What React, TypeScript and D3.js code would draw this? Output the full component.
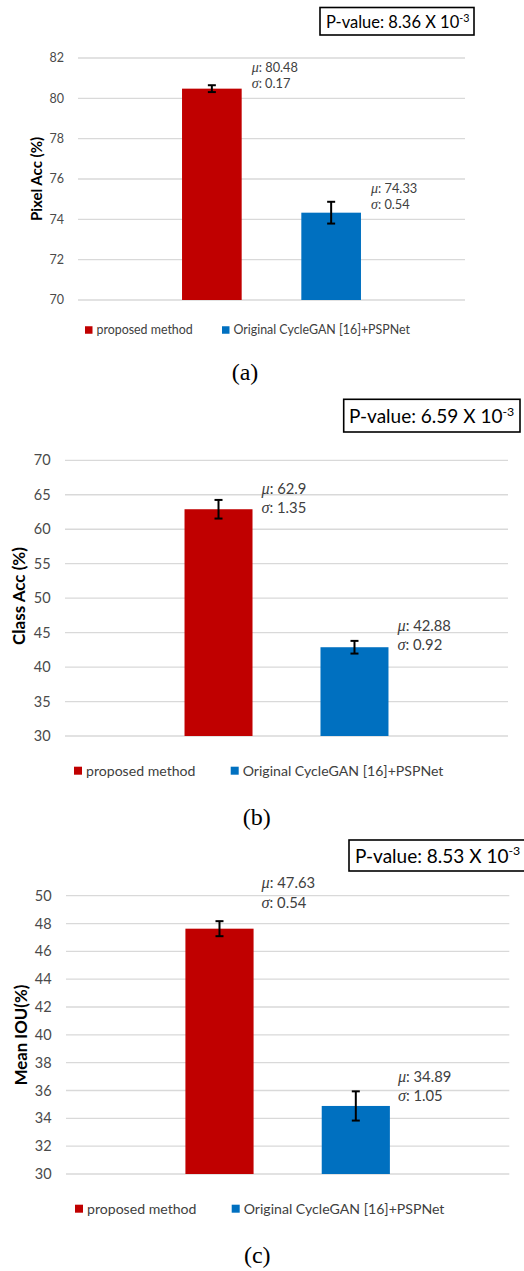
import React from "react";
import * as d3 from "d3";

// ---------- data ----------
const seriesNames = ["proposed method", "Original CycleGAN [16]+PSPNet"];
const seriesColors = ["#c00000", "#0070c0"];

const pixelAccMeans = [80.48, 74.33];
const pixelAccStds = [0.17, 0.54];
const pixelAccTicks = [70, 72, 74, 76, 78, 80, 82];

const classAccMeans = [62.9, 42.88];
const classAccStds = [1.35, 0.92];
const classAccTicks = [30, 35, 40, 45, 50, 55, 60, 65, 70];

const iouMeans = [47.63, 34.89];
const iouStds = [0.54, 1.05];
const iouTicks = [30, 32, 34, 36, 38, 40, 42, 44, 46, 48, 50];

const yTitles = ["Pixel Acc (%)", "Class Acc (%)", "Mean IOU(%)"];
const pValues = ["8.36", "6.59", "8.53"];
const pExponent = "-3";
const captions = ["(a)", "(b)", "(c)"];

const FONT = "Lato, 'Open Sans', sans-serif";

type Layout = {
  plotLeft: number; plotRight: number; yTop: number; yBottom: number;
  tickX: number; tickFont: number;
  title: { x: number; y: number; size: number };
  padOuter: number;
  labelFont: number; labelDx: number; labelLine: number; labelOffsets: number[];
  legend: { y: number; xs: number[]; sq: number; font: number };
  pbox: { x: number; y: number; w: number; h: number; tx: number; ty: number; font: number };
  caption: { x: number; y: number };
};

const layouts: Layout[] = [
  {
    plotLeft: 78, plotRight: 465, yTop: 58, yBottom: 300, tickX: 64, tickFont: 12.5,
    title: { x: 37, y: 179, size: 15 }, padOuter: 0.872,
    labelFont: 12.8, labelDx: 10, labelLine: 16, labelOffsets: [-1, -4],
    legend: { y: 330, xs: [85, 222], sq: 7.5, font: 12.4 },
    pbox: { x: 320, y: 7.5, w: 154, h: 27.5, tx: 326, ty: 28.3, font: 16.5 },
    caption: { x: 245, y: 380 },
  },
  {
    plotLeft: 65, plotRight: 508, yTop: 460.3, yBottom: 736, tickX: 50.7, tickFont: 14.5,
    title: { x: 19, y: 596, size: 17 }, padOuter: 0.879,
    labelFont: 14.8, labelDx: 9, labelLine: 19, labelOffsets: [3.6, 3],
    legend: { y: 770.7, xs: [74, 230.7], sq: 8, font: 14.1 },
    pbox: { x: 343.7, y: 399.3, w: 176.3, h: 32.7, tx: 349, ty: 423.3, font: 19 },
    caption: { x: 256.7, y: 825 },
  },
  {
    plotLeft: 66, plotRight: 509.3, yTop: 895.7, yBottom: 1174, tickX: 51.7, tickFont: 14.5,
    title: { x: 20.7, y: 1035, size: 16.8 }, padOuter: 0.876,
    labelFont: 14.8, labelDx: 8, labelLine: 19.5, labelOffsets: [-21, -4.7],
    legend: { y: 1208.7, xs: [75, 231.7], sq: 8, font: 14.1 },
    pbox: { x: 349, y: 840, w: 185, h: 31, tx: 355, ty: 862.7, font: 19 },
    caption: { x: 257.3, y: 1263 },
  },
];

const panels = [
  { means: pixelAccMeans, stds: pixelAccStds, ticks: pixelAccTicks },
  { means: classAccMeans, stds: classAccStds, ticks: classAccTicks },
  { means: iouMeans, stds: iouStds, ticks: iouTicks },
];

function Panel({ idx }: { idx: number }) {
  const L = layouts[idx];
  const P = panels[idx];
  const y = d3
    .scaleLinear()
    .domain([P.ticks[0], P.ticks[P.ticks.length - 1]])
    .range([L.yBottom, L.yTop]);
  const x = d3
    .scaleBand<string>()
    .domain(seriesNames)
    .range([L.plotLeft, L.plotRight])
    .paddingInner(0.5)
    .paddingOuter(L.padOuter);
  const bw = x.bandwidth();
  return (
    <g>
      {/* P-value box */}
      <rect x={L.pbox.x} y={L.pbox.y} width={L.pbox.w} height={L.pbox.h} fill="#fff" stroke="#000" strokeWidth={1.6} />
      <text x={L.pbox.tx} y={L.pbox.ty} fontFamily={FONT} fontSize={L.pbox.font} fill="#000">
        {`P-value: ${pValues[idx]} X 10`}
        <tspan dy={-L.pbox.font * 0.38} fontSize={L.pbox.font * 0.65}>{pExponent}</tspan>
      </text>
      {/* grid */}
      {P.ticks.map((t) => (
        <g key={t}>
          <line x1={L.plotLeft} x2={L.plotRight} y1={y(t)} y2={y(t)} stroke="#d9d9d9" strokeWidth={1.3} />
          <text x={L.tickX} y={y(t)} dy="0.35em" textAnchor="end" fontFamily={FONT} fontSize={L.tickFont} fill="#4a4a4a">
            {t}
          </text>
        </g>
      ))}
      {/* y title */}
      <text
        transform={`translate(${L.title.x},${L.title.y}) rotate(-90)`}
        textAnchor="middle"
        dy="0.35em"
        fontFamily={FONT}
        fontWeight="bold"
        fontSize={L.title.size}
        fill="#000"
      >
        {yTitles[idx]}
      </text>
      {/* bars */}
      {seriesNames.map((s, i) => {
        const x0 = x(s)!;
        const cx = x0 + bw / 2;
        const top = y(P.means[i]);
        const eT = y(P.means[i] + P.stds[i]);
        const eB = y(P.means[i] - P.stds[i]);
        const lx = x0 + bw + L.labelDx;
        const ly2 = top + L.labelOffsets[i];
        const ly1 = ly2 - L.labelLine;
        return (
          <g key={s}>
            <rect x={x0} y={top} width={bw} height={L.yBottom - top} fill={seriesColors[i]} />
            <line x1={cx} x2={cx} y1={eT} y2={eB} stroke="#000" strokeWidth={2} />
            <line x1={cx - 4} x2={cx + 4} y1={eT} y2={eT} stroke="#000" strokeWidth={2} />
            <line x1={cx - 4} x2={cx + 4} y1={eB} y2={eB} stroke="#000" strokeWidth={2} />
            <text x={lx} y={ly1} fontFamily={FONT} fontSize={L.labelFont} fill="#404040">
              <tspan fontFamily="'Liberation Serif', serif" fontStyle="italic" fontSize={L.labelFont * 1.1}>μ</tspan>
              {`: ${P.means[i]}`}
            </text>
            <text x={lx} y={ly2} fontFamily={FONT} fontSize={L.labelFont} fill="#404040">
              <tspan fontFamily="'Liberation Serif', serif" fontStyle="italic" fontSize={L.labelFont * 1.1}>σ</tspan>
              {`: ${P.stds[i]}`}
            </text>
          </g>
        );
      })}
      {/* legend */}
      {seriesNames.map((s, i) => (
        <g key={"lg" + s}>
          <rect
            x={L.legend.xs[i]}
            y={L.legend.y - L.legend.sq / 2}
            width={L.legend.sq}
            height={L.legend.sq}
            fill={seriesColors[i]}
          />
          <text
            x={L.legend.xs[i] + L.legend.sq + 4}
            y={L.legend.y}
            dy="0.35em"
            fontFamily={FONT}
            fontSize={L.legend.font}
            fill="#404040"
          >
            {s}
          </text>
        </g>
      ))}
      {/* caption */}
      <text x={L.caption.x} y={L.caption.y} textAnchor="middle" fontFamily="'Liberation Serif', 'Times New Roman', serif" fontSize={24} fill="#000">
        {captions[idx]}
      </text>
    </g>
  );
}

export default function App() {
  return (
    <svg
      width={524}
      height={1271}
      viewBox="0 0 524 1271"
      style={{ position: "absolute", left: 0, top: 0, background: "#fff" }}
    >
      <rect x={0} y={0} width={524} height={1271} fill="#fff" />
      {[0, 1, 2].map((i) => (
        <Panel key={i} idx={i} />
      ))}
    </svg>
  );
}
